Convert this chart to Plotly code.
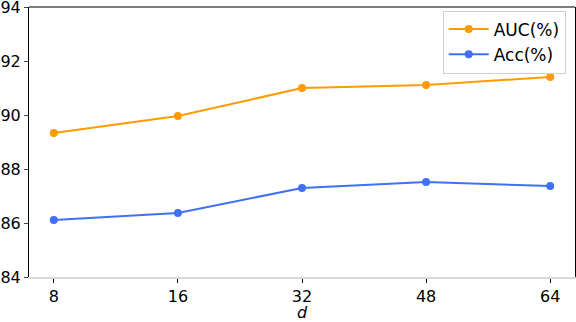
import plotly.graph_objects as go

d_values = ["8", "16", "32", "48", "64"]
auc = [89.33, 89.96, 91.0, 91.11, 91.41]
acc = [86.11, 86.37, 87.30, 87.52, 87.37]
y_ticks = [84, 86, 88, 90, 92, 94]

fig = go.Figure()
fig.add_trace(go.Scatter(x=d_values, y=auc, mode="lines+markers", name="AUC(%)",
                         line=dict(color="#FF9A00", width=2), marker=dict(size=8)))
fig.add_trace(go.Scatter(x=d_values, y=acc, mode="lines+markers", name="Acc(%)",
                         line=dict(color="#4070F5", width=2), marker=dict(size=8)))

fig.update_layout(
    width=576, height=322,
    margin=dict(l=29, r=1, t=7, b=45),
    plot_bgcolor="white", paper_bgcolor="white",
    font=dict(family="DejaVu Sans", size=16, color="black"),
    legend=dict(x=0.983, y=0.987, xanchor="right", yanchor="top",
                bordercolor="#d0d0d0", borderwidth=1, bgcolor="white",
                itemwidth=40, tracegroupgap=0,
                font=dict(size=17)),
    shapes=[dict(type="line", xref="paper", yref="paper", x0=0, x1=1, y0=1, y1=1,
                 line=dict(color="black", width=1))],
)
fig.update_xaxes(type="category", range=[-0.2, 4.2], showgrid=False, automargin=False,
                 showline=True, linecolor="#d9d9d9", linewidth=1.5,
                 ticks="outside", ticklen=4, tickcolor="black",
                 title=dict(text="<i>d</i>", standoff=4, font=dict(size=16)))
fig.update_yaxes(range=[84, 94], tickvals=y_ticks, showgrid=False, zeroline=False,
                 automargin=False, ticklabeloverflow="allow",
                 showline=True, mirror=True, linecolor="black", linewidth=1,
                 ticks="outside", ticklen=4)

# page body has a default 8px margin; remove it so the figure sits at 0,0
fig.write_html("out.html", config={"displayModeBar": False},
               post_script="document.body.style.margin='0px';")
